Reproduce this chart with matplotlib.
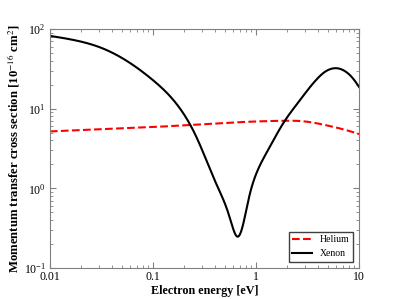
import numpy as np
from matplotlib import pyplot as plt

# values (eV, 1e-16 cm^2)
xenon_energy = [0.01, 0.0305, 0.0935, 0.146, 0.229, 0.308, 0.415, 0.538, 0.65,
                0.875, 1.37, 1.91, 2.67, 4.03, 5.04, 6.07, 7.6, 10.0]
xenon_sigma = [82.0, 59.0, 24.5, 14.4, 6.34, 2.79, 1.11, 0.49, 0.25,
               0.87, 3.37, 7.1, 12.8, 24.6, 30.7, 32.2, 28.5, 18.7]

helium_energy = [0.01, 0.03, 0.0935, 0.286, 0.875, 1.91, 2.67, 4.86, 8.2, 10.0]
helium_sigma = [5.18, 5.5, 5.86, 6.34, 6.86, 7.05, 7.0, 6.17, 5.2, 4.8]

plt.rcParams['font.family'] = ['Liberation Serif', 'DejaVu Serif']
plt.rcParams['mathtext.fontset'] = 'stix'


def natural(t, v, tt):
    k = len(t)
    h = np.diff(t)
    A = np.zeros((k, k))
    b = np.zeros(k)
    A[0, 0] = A[-1, -1] = 1
    for i in range(1, k - 1):
        A[i, i - 1] = h[i - 1]
        A[i, i] = 2 * (h[i - 1] + h[i])
        A[i, i + 1] = h[i]
        b[i] = 6 * ((v[i + 1] - v[i]) / h[i] - (v[i] - v[i - 1]) / h[i - 1])
    M = np.linalg.solve(A, b)
    i = np.clip(np.searchsorted(t, tt) - 1, 0, k - 2)
    a = t[i + 1] - tt
    c = tt - t[i]
    return (M[i] * a**3 + M[i + 1] * c**3) / (6 * h[i]) \
        + (v[i] / h[i] - M[i] * h[i] / 6) * a \
        + (v[i + 1] / h[i] - M[i + 1] * h[i] / 6) * c


def curve(xs, ys, n=800):
    """Chord-length parametric spline through the points in log-log space."""
    x = np.log10(xs) * 103.0   # roughly pixels per decade on each axis
    y = np.log10(ys) * 79.3
    t = np.concatenate([[0], np.cumsum(np.hypot(np.diff(x), np.diff(y)))])
    tt = np.linspace(0, t[-1], n)
    return 10 ** (natural(t, x, tt) / 103.0), 10 ** (natural(t, y, tt) / 79.3)


fig = plt.figure(figsize=(3.99, 2.99), dpi=100)
ax = fig.add_axes([0.125, 0.1037, 0.775, 0.7993])

hx, hy = curve(helium_energy, helium_sigma)
ax.plot(hx, hy, 'r--', lw=1.5, label='Helium')
xx, xy = curve(xenon_energy, xenon_sigma)
ax.plot(xx, xy, 'k-', lw=1.5, label='Xenon')

ax.set_xscale('log')
ax.set_yscale('log')
ax.set_xlim(0.01, 10)
ax.set_ylim(0.1, 100)
ax.set_xticks([0.01, 0.1, 1, 10])
ax.set_xticklabels(['0.01', '0.1', '1', '10'])

for s in ax.spines.values():
    s.set_color('#808080')
ax.tick_params(which='both', direction='in', top=True, right=True,
               color='#808080', labelsize=8.5)
ax.tick_params(which='major', length=4)
ax.tick_params(which='minor', length=2)
ax.tick_params(axis='x', pad=2.5)
ax.tick_params(axis='y', pad=3)

ax.set_xlabel('Electron energy [eV]', fontweight='bold', fontsize=8.7, labelpad=1)
ax.set_ylabel('Momentum transfer cross section [10$^{-16}$ cm$^2$]',
              fontweight='bold', fontsize=9.2, labelpad=1)

leg = ax.legend(loc='lower right', fontsize=7, fancybox=False, framealpha=1,
                borderaxespad=0.6)
leg.get_frame().set_edgecolor('#404040')

fig.savefig('out.png', dpi=100)
